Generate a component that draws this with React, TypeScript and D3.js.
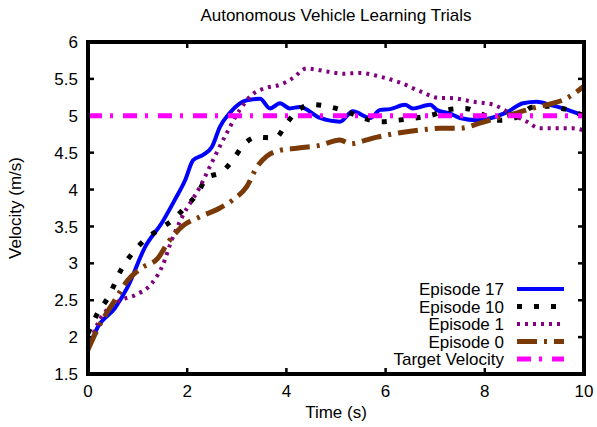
import React from "react";
import * as d3 from "d3";

// Velocity samples (time in s, velocity in m/s)
const ep17T = [0, 0.2, 0.54, 0.8, 1.15, 1.49, 1.75, 1.96, 2.12, 2.32, 2.5, 2.66, 2.86, 3.2, 3.47, 3.67, 3.87, 4.07, 4.27, 4.68, 5.08, 5.34, 5.69, 5.89, 6.09, 6.39, 6.55, 6.9, 7.03, 7.3, 7.5, 7.84, 8.45, 8.77, 9.05, 9.31, 9.58, 10];
const ep17V = [1.83, 2.14, 2.39, 2.68, 3.22, 3.55, 3.86, 4.13, 4.4, 4.47, 4.58, 4.85, 5.04, 5.21, 5.23, 5.1, 5.17, 5.1, 5.12, 4.97, 4.92, 5.06, 4.97, 5.08, 5.09, 5.15, 5.1, 5.15, 5.08, 5.03, 4.97, 4.94, 5.05, 5.17, 5.19, 5.15, 5.1, 5.0];

const ep10T = [0, 0.2, 0.4, 0.69, 0.91, 1.15, 1.41, 1.71, 1.96, 2.2, 2.4, 2.7, 2.92, 3.13, 3.4, 3.77, 4.01, 4.23, 4.54, 4.88, 5.24, 5.54, 5.89, 6.25, 6.6, 6.94, 7.24, 7.6, 7.9, 8.3, 8.65, 8.97, 9.25, 9.62, 10];
const ep10V = [2.05, 2.33, 2.53, 2.94, 3.15, 3.32, 3.45, 3.59, 3.76, 3.94, 4.16, 4.24, 4.4, 4.6, 4.71, 4.7, 4.9, 5.08, 5.15, 5.12, 5.05, 4.97, 4.92, 4.94, 4.97, 5.01, 5.08, 5.1, 5.03, 4.94, 4.98, 5.12, 5.13, 5.09, 5.0];

const ep1T = [0, 0.2, 0.6, 0.95, 1.29, 1.51, 1.69, 1.9, 2.26, 2.52, 2.8, 3.06, 3.3, 3.6, 3.87, 4.13, 4.4, 4.82, 5.14, 5.48, 5.89, 6.29, 6.7, 7.1, 7.3, 7.77, 8.17, 8.57, 8.85, 9.11, 9.45, 9.78, 10];
const ep1V = [1.85, 2.19, 2.48, 2.57, 2.73, 2.98, 3.32, 3.63, 4.04, 4.4, 4.77, 5.08, 5.28, 5.38, 5.42, 5.51, 5.64, 5.6, 5.57, 5.58, 5.53, 5.45, 5.33, 5.24, 5.24, 5.19, 5.15, 5.01, 4.92, 4.83, 4.83, 4.83, 4.8];

const ep0T = [0, 0.2, 0.54, 0.8, 1.09, 1.41, 1.61, 1.9, 2.26, 2.66, 2.92, 3.2, 3.41, 3.6, 3.87, 4.21, 4.68, 5.08, 5.3, 5.55, 5.83, 6.29, 6.75, 7.1, 7.5, 7.9, 8.25, 8.65, 9.05, 9.38, 9.66, 9.86, 10];
const ep0V = [1.83, 2.12, 2.5, 2.77, 2.94, 3.07, 3.28, 3.5, 3.63, 3.75, 3.86, 4.04, 4.31, 4.45, 4.53, 4.56, 4.6, 4.67, 4.62, 4.66, 4.71, 4.77, 4.81, 4.83, 4.83, 4.9, 4.97, 5.04, 5.12, 5.17, 5.24, 5.33, 5.4];

const targetT = [0, 10];
const targetV = [5, 5];

const xTicks = [0, 2, 4, 6, 8, 10];
const yTicks = [1.5, 2, 2.5, 3, 3.5, 4, 4.5, 5, 5.5, 6];

const series = [
  { name: "Episode 17", t: ep17T, v: ep17V, color: "#0000ff", width: 4, dash: "none" },
  { name: "Episode 10", t: ep10T, v: ep10V, color: "#000000", width: 5, dash: "5,12" },
  { name: "Episode 1", t: ep1T, v: ep1V, color: "#800080", width: 4, dash: "3,5" },
  { name: "Episode 0", t: ep0T, v: ep0V, color: "#7a3a08", width: 5, dash: "20,7,3,7" },
  { name: "Target Velocity", t: targetT, v: targetV, color: "#ff00ff", width: 5, dash: "14,8,3,10" },
];

const W = 597, H = 427;
const m = { left: 88, right: 13, top: 42, bottom: 53 };
const font = "'Liberation Sans', Arial, sans-serif";

export default function App() {
  const x = d3.scaleLinear().domain([0, 10]).range([m.left, W - m.right]);
  const y = d3.scaleLinear().domain([1.5, 6]).range([H - m.bottom, m.top]);
  const line = d3.line<[number, number]>()
    .x(d => x(d[0]))
    .y(d => y(d[1]))
    .curve(d3.curveMonotoneX);

  const legX1 = 517, legX2 = 564, legY0 = 289, legStep = 17.5;

  return (
    <svg width={W} height={H} style={{ position: "absolute", left: 0, top: 0, background: "#fff" }}
      fontFamily={font} fontSize={17}>
      <text x={(x(0) + x(10)) / 2} y={21} textAnchor="middle">Autonomous Vehicle Learning Trials</text>

      {/* tick marks inside the frame, both sides */}
      {xTicks.map(t => (
        <g key={"xt" + t}>
          <line x1={x(t)} x2={x(t)} y1={y(1.5)} y2={y(1.5) - 6} stroke="#000" strokeWidth={2.5} />
          <line x1={x(t)} x2={x(t)} y1={y(6)} y2={y(6) + 6} stroke="#000" strokeWidth={2.5} />
          <text x={x(t)} y={397} textAnchor="middle">{t}</text>
        </g>
      ))}
      {yTicks.map(v => (
        <g key={"yt" + v}>
          <line x1={x(0)} x2={x(0) + 6} y1={y(v)} y2={y(v)} stroke="#000" strokeWidth={2.5} />
          <line x1={x(10)} x2={x(10) - 6} y1={y(v)} y2={y(v)} stroke="#000" strokeWidth={2.5} />
          <text x={78} y={y(v)} dy="0.36em" textAnchor="end">{v}</text>
        </g>
      ))}

      {series.map(s => (
        <path key={s.name}
          d={line(s.t.map((t, i) => [t, s.v[i]] as [number, number])) || ""}
          fill="none" stroke={s.color} strokeWidth={s.width}
          strokeDasharray={s.dash} />
      ))}

      <rect x={x(0)} y={y(6)} width={x(10) - x(0)} height={y(1.5) - y(6)}
        fill="none" stroke="#000" strokeWidth={4} />

      {series.map((s, i) => (
        <g key={"leg" + s.name}>
          <text x={504} y={legY0 + i * legStep} dy="0.36em" textAnchor="end">{s.name}</text>
          <line x1={legX1} x2={legX2} y1={legY0 + i * legStep} y2={legY0 + i * legStep}
            stroke={s.color} strokeWidth={s.width} strokeDasharray={s.dash} />
        </g>
      ))}

      <text x={(x(0) + x(10)) / 2} y={418} textAnchor="middle">Time (s)</text>
      <text transform={`translate(21,${(y(1.5) + y(6)) / 2}) rotate(-90)`} textAnchor="middle">Velocity (m/s)</text>
    </svg>
  );
}
